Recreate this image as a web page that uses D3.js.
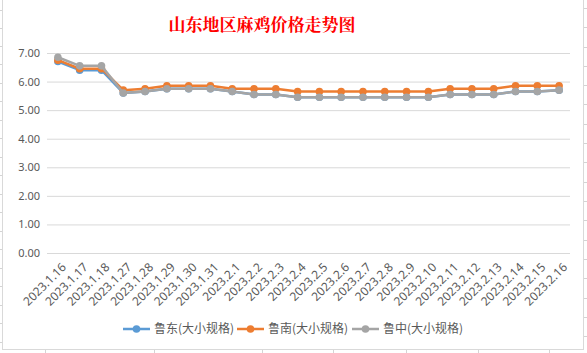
<!DOCTYPE html>
<html>
<head>
<meta charset="utf-8">
<script src="https://cdn.jsdelivr.net/npm/d3@7"></script>
<style>
  body { margin: 0; background: #fff; }
  svg { display: block; font-family: "Noto Sans CJK SC", "Noto Sans", sans-serif; }
</style>
</head>
<body>
<div id="chart"></div>
<script>
// data
const dates = ["2023.1.16", "2023.1.17", "2023.1.18", "2023.1.27", "2023.1.28", "2023.1.29",
  "2023.1.30", "2023.1.31", "2023.2.1", "2023.2.2", "2023.2.3", "2023.2.4", "2023.2.5",
  "2023.2.6", "2023.2.7", "2023.2.8", "2023.2.9", "2023.2.10", "2023.2.11", "2023.2.12",
  "2023.2.13", "2023.2.14", "2023.2.15", "2023.2.16"]
const ludong = [6.7, 6.4, 6.4, 5.6, 5.65, 5.75, 5.75, 5.75, 5.65, 5.55, 5.55, 5.45, 5.45, 5.45, 5.45, 5.45,
  5.45, 5.45, 5.55, 5.55, 5.55, 5.65, 5.65, 5.7]
const lunan = [6.75, 6.45, 6.45, 5.7, 5.75, 5.85, 5.85, 5.85, 5.75, 5.75, 5.75, 5.65, 5.65, 5.65, 5.65, 5.65,
  5.65, 5.65, 5.75, 5.75, 5.75, 5.85, 5.85, 5.85]
const luzhong = [6.85, 6.55, 6.55, 5.6, 5.65, 5.75, 5.75, 5.75, 5.65, 5.55, 5.55, 5.45, 5.45, 5.45, 5.45, 5.45,
  5.45, 5.45, 5.55, 5.55, 5.55, 5.65, 5.65, 5.7]
const seriesNames = ["鲁东(大小规格)", "鲁南(大小规格)", "鲁中(大小规格)"]
const yTicks = [0, 1, 2, 3, 4, 5, 6, 7]

async function drawChart() {
  const dimensions = {
    width: 587,
    height: 353,
    margin: { top: 53, right: 17, bottom: 100, left: 47 },
  }
  dimensions.boundedWidth = dimensions.width - dimensions.margin.left - dimensions.margin.right
  dimensions.boundedHeight = dimensions.height - dimensions.margin.top - dimensions.margin.bottom

  const colors = ["#5b9bd5", "#ed7d31", "#a5a5a5"]
  const series = [ludong, lunan, luzhong]

  const wrapper = d3.select("#chart").append("svg")
      .attr("width", dimensions.width)
      .attr("height", dimensions.height)

  // spreadsheet grid peeking around the chart frame
  const sheet = wrapper.append("g").attr("stroke", "#d4d4d4").attr("stroke-width", 1)
  ;[41, 138, 232, 297, 361, 425, 489, 550].forEach(x =>
    sheet.append("line").attr("x1", x + 0.5).attr("x2", x + 0.5).attr("y1", 0).attr("y2", 3))
  ;[45, 154, 262, 333, 406, 478, 549].forEach(x =>
    sheet.append("line").attr("x1", x + 0.5).attr("x2", x + 0.5).attr("y1", 350).attr("y2", 353))
  ;[10, 28, 46, 64, 83, 101, 120, 138, 157, 175, 194, 212, 231, 249, 268, 286, 305, 323, 342].forEach(y =>
    sheet.append("line").attr("x1", 0).attr("x2", 2).attr("y1", y + 0.5).attr("y2", y + 0.5))
  ;[8, 27, 47, 66, 85, 104, 124, 143, 162, 182, 201, 220, 240, 259, 278, 298, 317, 336].forEach(y =>
    sheet.append("line").attr("x1", 584).attr("x2", 587).attr("y1", y + 0.5).attr("y2", y + 0.5))

  // chart frame
  wrapper.append("rect")
      .attr("x", 2.5)
      .attr("y", -1)
      .attr("width", 581)
      .attr("height", 350.5)
      .attr("fill", "#fff")
      .attr("stroke", "#d9d9d9")

  const bounds = wrapper.append("g")
      .attr("transform", `translate(${dimensions.margin.left}, ${dimensions.margin.top})`)

  const xScale = d3.scaleBand()
    .domain(dates)
    .range([0, dimensions.boundedWidth])

  const yScale = d3.scaleLinear()
    .domain([0, 7])
    .range([dimensions.boundedHeight, 0])

  const xCenter = d => xScale(d) + xScale.bandwidth() / 2

  // gridlines + y labels
  const yAxis = bounds.append("g")
    .call(d3.axisLeft(yScale)
      .tickValues(yTicks)
      .tickFormat(d3.format(".2f"))
      .tickSize(-dimensions.boundedWidth)
      .tickPadding(7))
  yAxis.select(".domain").remove()
  yAxis.selectAll(".tick line").attr("stroke", "#d9d9d9")
  yAxis.selectAll(".tick text")
      .attr("fill", "#595959")
      .style("font-size", "11px")
      .style("font-family", "'Noto Sans', sans-serif")

  // x labels
  const xAxis = bounds.append("g")
      .attr("transform", `translate(0, ${dimensions.boundedHeight})`)
    .call(d3.axisBottom(xScale).tickSize(0).tickPadding(0))
  xAxis.select(".domain").remove()
  xAxis.selectAll(".tick text")
      .attr("fill", "#595959")
      .style("font-size", "12px")
      .style("font-family", "'Noto Sans', sans-serif")
      .attr("text-anchor", "end")
      .attr("transform", "translate(6, 12) rotate(-45)")
      .attr("dy", "0.35em")
      .attr("y", 0)

  // lines
  const lineGenerator = d3.line()
    .x((d, i) => xCenter(dates[i]))
    .y(d => yScale(d))

  series.forEach((values, s) => {
    bounds.append("path")
        .attr("d", lineGenerator(values))
        .attr("fill", "none")
        .attr("stroke", colors[s])
        .attr("stroke-width", 2.5)
        .attr("stroke-linejoin", "round")
    bounds.append("g").selectAll("circle")
      .data(values)
      .join("circle")
        .attr("cx", (d, i) => xCenter(dates[i]))
        .attr("cy", d => yScale(d))
        .attr("r", 3.8)
        .attr("fill", colors[s])
  })

  // title
  wrapper.append("text")
      .attr("x", 262)
      .attr("y", 31)
      .attr("text-anchor", "middle")
      .attr("fill", "#ff0000")
      .attr("font-weight", 700)
      .style("font-size", "17px")
      .style("font-family", "'Noto Serif CJK SC', 'Noto Sans CJK SC', serif")
      .text("山东地区麻鸡价格走势图")

  // legend
  const legendX = [123, 237, 352]
  const legend = wrapper.append("g")
  seriesNames.forEach((name, s) => {
    const g = legend.append("g").attr("transform", `translate(${legendX[s]}, 329)`)
    g.append("line")
        .attr("x1", 0).attr("x2", 27)
        .attr("stroke", colors[s])
        .attr("stroke-width", 2.5)
    g.append("circle")
        .attr("cx", 13.5)
        .attr("r", 3.8)
        .attr("fill", colors[s])
    g.append("text")
        .attr("x", 31)
        .attr("dy", "0.35em")
        .attr("fill", "#595959")
        .style("font-size", "12px")
        .text(name)
  })
}

drawChart()
</script>
</body>
</html>
